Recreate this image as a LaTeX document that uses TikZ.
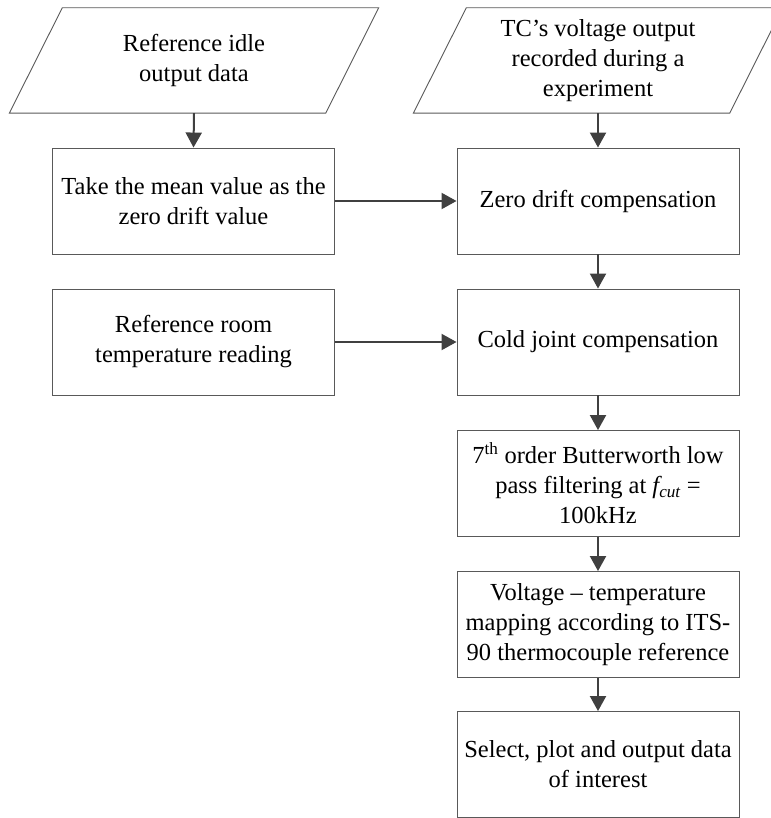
\documentclass[tikz,border=0pt]{standalone}
\usepackage{fontspec}
\setmainfont{Liberation Serif}
\usetikzlibrary{arrows.meta,calc}

\begin{document}
\begin{tikzpicture}[x=1pt, y=-1pt,
  every node/.style={font=\fontsize{24.5}{30}\selectfont, align=center, inner sep=0pt},
  procbox/.style={draw=black!65, line width=0.9pt, minimum width=282pt, minimum height=106pt},
  iobox/.style={minimum width=316pt, minimum height=105pt},
  ioframe/.style={draw=black!65, line width=0.9pt},
  flow/.style={draw=black!75, line width=2pt, -{Triangle[length=15pt, width=16pt]}}
]
\useasboundingbox (0,0) rectangle (770,818);

% input / data nodes (parallelograms drawn around them)
\node[iobox] (idle) at (194,60.5) {Reference idle\\output data};
\node[iobox] (tc)   at (598,60.5) {TC’s voltage output\\recorded during a\\experiment};
\foreach \n in {idle,tc}{
  \draw[ioframe] ($(\n.north west)+(26.5,0)$) -- ($(\n.north east)+(26.5,0)$)
                 -- ($(\n.south east)+(-26.5,0)$) -- ($(\n.south west)+(-26.5,0)$) -- cycle;
}

% left column
\node[procbox] (mean) at (193.5,201) {Take the mean value as the\\zero drift value};
\node[procbox] (room) at (193.5,342) {Reference room\\temperature reading};

% main processing chain
\node[procbox] (zero)   at (598,201) {Zero drift compensation};
\node[procbox] (cold)   at (598,342) {Cold joint compensation};
\node[procbox] (filter) at (598,483.5) {7\textsuperscript{th} order Butterworth low\\pass filtering at \textit{f\textsubscript{cut}} =\\100kHz};
\node[procbox] (map)    at (598,624.5) {Voltage – temperature\\mapping according to ITS-\\90 thermocouple reference};
\node[procbox] (out)    at (598,764.5) {Select, plot and output data\\of interest};

% connectors
\draw[flow] (idle.south) -- (mean.north);
\draw[flow] (tc.south) -- (zero.north);
\draw[flow] (mean.east) -- (zero.west);
\draw[flow] (room.east) -- (cold.west);
\draw[flow] (zero.south) -- (cold.north);
\draw[flow] (cold.south) -- (filter.north);
\draw[flow] (filter.south) -- (map.north);
\draw[flow] (map.south) -- (out.north);
\end{tikzpicture}
\end{document}
